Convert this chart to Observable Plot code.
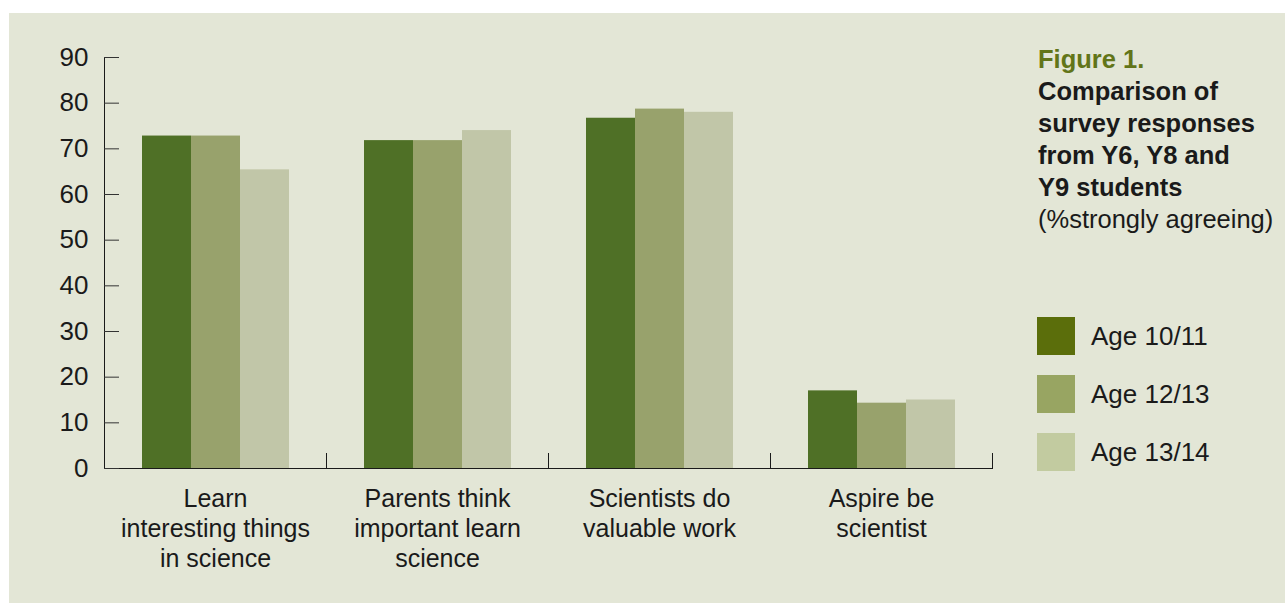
<!DOCTYPE html>
<html><head><meta charset="utf-8">
<script src="https://cdn.jsdelivr.net/npm/d3@7"></script>
<script src="https://cdn.jsdelivr.net/npm/@observablehq/plot@0.6"></script>
<style>
html,body{margin:0;padding:0;background:#fff;}
#panel{position:absolute;left:9px;top:13px;width:1276px;height:590px;background:#e3e6d6;font-family:"Liberation Sans",Arial,sans-serif;color:#1a1a1a;overflow:hidden;}
#chart{position:absolute;left:0;top:0;}
#title{position:absolute;left:1029px;top:30px;font-size:25.5px;line-height:32px;white-space:nowrap;}
#title .fig{color:#627519;font-weight:bold;}
#title .b{font-weight:bold;}
#legend{position:absolute;left:1028px;top:304px;}
.item{display:flex;align-items:center;height:38px;margin-bottom:20px;font-size:26px;}
.sw{width:38px;height:38px;margin-right:16px;}
</style></head>
<body>
<div id="panel">
  <div id="chart"></div>
  <div id="title"><div class="fig">Figure 1.</div><div class="b">Comparison of<br>survey responses<br>from Y6, Y8 and<br>Y9 students</div><div>(%strongly agreeing)</div></div>
  <div id="legend"></div>
</div>
<script>
const categories = ["Learn interesting things in science", "Parents think important learn science", "Scientists do valuable work", "Aspire be scientist"];
const categoryLabels = ["Learn\ninteresting things\nin science", "Parents think\nimportant learn\nscience", "Scientists do\nvaluable work", "Aspire be\nscientist"];
const series = ["Age 10/11", "Age 12/13", "Age 13/14"];
const age1011 = [72.8, 71.8, 76.7, 17.0];
const age1213 = [72.8, 71.8, 78.7, 14.3];
const age1314 = [65.4, 74.0, 78.0, 15.0];
const yTicks = [0, 10, 20, 30, 40, 50, 60, 70, 80, 90];
const barColors = ["#4f7026", "#98a26c", "#c1c6a8"];
const legendColors = ["#5b6e0b", "#98a562", "#c2cba0"];

const seriesValues = [age1011, age1213, age1314];
const rows = [];
categories.forEach((c, i) => series.forEach((s, j) => rows.push({category: c, series: s, value: seriesValues[j][i]})));
const labelMap = new Map(categories.map((c, i) => [c, categoryLabels[i]]));

const chart = Plot.plot({
  width: 990, height: 590,
  marginLeft: 94, marginRight: 6, marginTop: 44, marginBottom: 135,
  style: {background: "transparent", fontFamily: "'Liberation Sans', Arial, sans-serif", color: "#1a1a1a"},
  fx: {domain: categories, padding: 0, label: null, axis: null},
  x: {domain: series, paddingInner: 0, paddingOuter: 0.74, axis: null},
  y: {domain: [0, 90], label: null},
  color: {domain: series, range: barColors},
  marks: [
    Plot.barY(rows, {fx: "category", x: "series", y: "value", fill: "series"}),
    Plot.ruleY([0], {stroke: "#1a1a1a"}),
    Plot.frame({anchor: "left", facetAnchor: "left", stroke: "#1a1a1a"}),
    Plot.frame({anchor: "right", insetTop: 396, stroke: "#1a1a1a"}),
    Plot.axisY(yTicks, {tickSize: -15, tickPadding: 31, fontSize: 26, label: null, stroke: "#333"}),
    Plot.axisFx({anchor: "bottom", tickSize: 0, tickPadding: 17, tickFormat: d => labelMap.get(d), lineHeight: 1.2, fontSize: 25, label: null})
  ]
});
document.getElementById("chart").appendChild(chart);

const legend = document.getElementById("legend");
series.forEach((s, i) => {
  const item = document.createElement("div");
  item.className = "item";
  const sw = document.createElement("div");
  sw.className = "sw";
  sw.style.background = legendColors[i];
  const lab = document.createElement("span");
  lab.textContent = s;
  item.appendChild(sw); item.appendChild(lab);
  legend.appendChild(item);
});
</script>
</body></html>
